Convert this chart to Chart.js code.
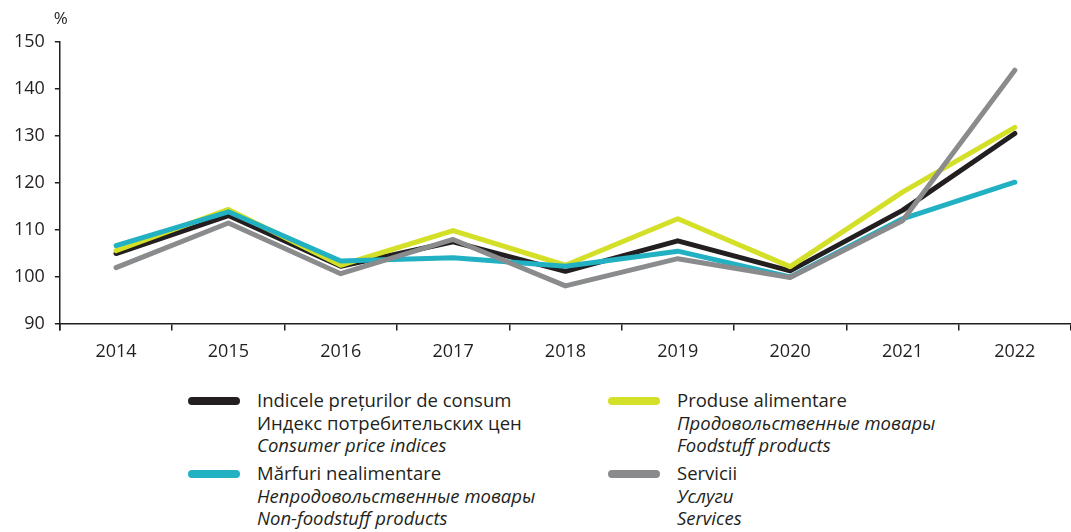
<!DOCTYPE html>
<html>
<head>
<meta charset="utf-8">
<script src="https://cdn.jsdelivr.net/npm/chart.js@4"></script>
<style>
body{margin:0;background:#fff;width:1071px;height:532px;overflow:hidden;position:relative;font-family:"Open Sans",sans-serif;color:#231f20}
#wrap{position:absolute;left:0;top:0;width:1071px;height:374px}
.leg{position:absolute;font-size:18.5px;line-height:22.5px}
.leg .sw{position:absolute;left:-69px;top:8px;width:52px;height:8px;border-radius:4px}
.leg i{font-style:italic}
</style>
</head>
<body>
<div id="wrap"><canvas id="graf"></canvas></div>
<div class="leg" style="left:257px;top:389px"><span class="sw" style="background:#231f20"></span>Indicele prețurilor de consum<br>Индекс потребительских цен<br><i>Consumer price indices</i></div>
<div class="leg" style="left:677px;top:389px"><span class="sw" style="background:#d4df27"></span>Produse alimentare<br><i>Продовольственные товары</i><br><i>Foodstuff products</i></div>
<div class="leg" style="left:257px;top:462px"><span class="sw" style="background:#22b0c3"></span>Mărfuri nealimentare<br><i>Непродовольственные товары</i><br><i>Non-foodstuff products</i></div>
<div class="leg" style="left:677px;top:462px"><span class="sw" style="background:#8a8b8d"></span>Servicii<br><i>Услуги</i><br><i>Services</i></div>
<script>
var years = ['2014','2015','2016','2017','2018','2019','2020','2021','2022'];
var ipc = [104.9, 113.0, 102.2, 107.4, 101.1, 107.6, 101.2, 114.1, 130.5];
var alimentare = [105.5, 114.3, 102.4, 109.8, 102.4, 112.3, 102.1, 118.0, 131.8];
var nealimentare = [106.6, 113.8, 103.3, 104.0, 102.2, 105.4, 99.9, 112.3, 120.1];
var servicii = [101.9, 111.4, 100.6, 107.9, 98.0, 103.8, 99.8, 111.9, 144.0];
var yTicks = [90, 100, 110, 120, 130, 140, 150];

var ink = '#231f20';
var fnt = {family: '"Open Sans", sans-serif', size: 18};

// "%" above the y axis + y axis stub below the x axis
var percentLabel = {
    id: 'percentLabel',
    afterDraw: function(chart){
        var c = chart.ctx, a = chart.chartArea;
        c.save();
        c.fillStyle = ink;
        c.font = '17px "Open Sans", sans-serif';
        c.textAlign = 'center';
        c.textBaseline = 'middle';
        c.fillText('%', a.left + 1, 19);
        c.strokeStyle = ink;
        c.lineWidth = 1.5;
        c.beginPath();
        c.moveTo(a.left, a.bottom);
        c.lineTo(a.left, a.bottom + 7);
        c.stroke();
        c.restore();
    }
};

function ds(label, data, color, order){
    return {
        label: label,
        data: data,
        borderColor: color,
        backgroundColor: color,
        borderWidth: 5,
        pointRadius: 0,
        tension: 0,
        borderCapStyle: 'round',
        borderJoinStyle: 'round',
        order: order
    };
}

var ctx = document.getElementById("graf").getContext("2d");
var graf = new Chart(ctx, {
    type: 'line',
    data: {
        labels: years,
        datasets: [
            ds('Indicele prețurilor de consum', ipc, '#231f20', 3),
            ds('Produse alimentare', alimentare, '#d4df27', 2),
            ds('Mărfuri nealimentare', nealimentare, '#22b0c3', 1),
            ds('Servicii', servicii, '#8a8b8d', 0)
        ]
    },
    plugins: [percentLabel],
    options: {
        responsive: true,
        maintainAspectRatio: false,
        animation: false,
        layout: {padding: {top: 42, right: 0, left: 4, bottom: 0}},
        plugins: {legend: {display: false}, tooltip: {enabled: false}},
        scales: {
            x: {
                offset: true,
                grid: {offset: true, drawOnChartArea: false, tickLength: 7, color: ink, lineWidth: 1.5},
                border: {color: ink, width: 1.5},
                ticks: {color: ink, font: fnt, padding: 11, maxRotation: 0}
            },
            y: {
                min: 90,
                max: 150,
                afterBuildTicks: function(axis){
                    axis.ticks = yTicks.map(function(v){ return {value: v}; });
                },
                grid: {drawOnChartArea: false, tickLength: 5, color: ink, lineWidth: 1.5},
                border: {color: ink, width: 1.5},
                ticks: {color: ink, font: fnt, padding: 10}
            }
        }
    }
});
</script>
</body>
</html>
